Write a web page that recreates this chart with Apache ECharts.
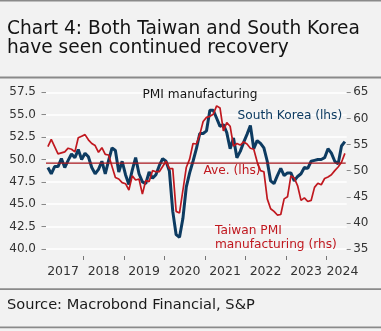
<!DOCTYPE html>
<html>
<head>
<meta charset="utf-8">
<script src="https://cdn.jsdelivr.net/npm/echarts@6/dist/echarts.min.js"></script>
<style>
html,body{margin:0;padding:0;background:#f2f2f2;}
#c{width:381px;height:331px;}
</style>
</head>
<body>
<div id="c"></div>
<script>
// month index: 0 = Jan 2017 (monthly, Feb 2017 .. Jun 2024)
const startMonth = 1;
const korea = [49.1,48.4,49.2,49.2,50.1,49.1,49.9,50.6,50.2,51.1,
  50.0,50.7,50.3,49.1,48.4,48.9,49.8,48.4,49.9,51.3,
  51.0,48.6,49.8,48.3,47.2,48.8,50.2,48.4,47.5,47.3,
  48.6,47.9,48.3,49.3,50.1,49.8,48.7,44.2,41.6,41.3,
  43.4,46.9,48.5,49.8,51.2,52.9,52.9,53.2,55.5,55.5,
  54.6,53.7,53.9,53.0,51.2,52.4,50.2,50.9,51.9,52.8,
  53.8,51.2,52.1,51.8,51.3,49.8,47.6,47.3,48.2,49.0,
  48.2,48.5,48.5,47.6,48.1,48.4,49.1,49.0,49.8,49.9,
  50.0,50.0,50.2,51.2,50.7,49.8,49.5,51.5,52.0];
const taiwan = [54.6,56.0,54.6,53.2,53.4,53.6,54.3,54.1,53.6,56.3,
  56.6,56.9,55.9,55.2,54.8,53.5,54.4,53.1,53.0,50.8,
  48.7,48.4,47.7,47.5,46.3,49.0,48.2,48.4,45.5,48.1,
  47.9,50.0,49.8,49.8,50.8,51.8,50.4,50.4,42.2,41.9,
  46.2,50.6,52.2,55.2,55.1,56.9,59.4,60.2,60.4,60.8,
  62.4,62.0,57.6,59.2,58.5,54.7,55.2,54.9,55.5,55.1,
  54.3,54.1,51.7,50.0,49.8,44.6,42.7,42.2,41.5,41.6,
  44.6,45.0,49.0,48.6,47.1,44.3,44.8,44.1,44.3,46.8,
  47.6,47.3,48.5,48.8,49.2,50.0,50.7,51.6,53.3];
const average = 49.6;
const years = [2017,2018,2019,2020,2021,2022,2023,2024];
const yearTickPos = [11.5,23.5,35.5,47.5,59.5,71.5,83.5];
const yearLabelPos = [5.5,17.5,29.5,41.5,53.5,65.5,77.5,88.3];
const leftAxis = {min:40, max:57.5, step:2.5};
const rightAxis = {min:35, max:65, step:5};

const FONT = 'DejaVu Sans';
const BLUE = '#0d3b61';
const RED = '#c0181f';

const koreaData = korea.map((v,i)=>[startMonth+i, v]);
const taiwanData = taiwan.map((v,i)=>[startMonth+i, v]);
const xMin = 0.44, xMax = 89.54;
const aveData = [[xMin, average],[xMax-0.3, average]];

const annText = (text, x, y, fill) => ({type:'text', x:x, y:y, z:100, zlevel:0,
  style:{text:text, fontFamily:FONT, fontSize:12.2, fill:fill, verticalAlign:'middle', textVerticalAlign:'middle'}});

const chart = echarts.init(document.getElementById('c'), null, {renderer:'canvas'});
chart.setOption({
  backgroundColor:'#f2f2f2',
  animation:false,
  title:[
    {text:'Chart 4: Both Taiwan and South Korea\nhave seen continued recovery', left:7, top:20.5, padding:0,
     textStyle:{fontFamily:FONT, fontSize:18.6, fontWeight:'normal', color:'#141414', lineHeight:18.3}},
    {text:'Source: Macrobond Financial, S&P', left:7, top:297.5, padding:0,
     textStyle:{fontFamily:FONT, fontSize:14.6, fontWeight:'normal', color:'#1a1a1a', lineHeight:16}}
  ],
  grid:{left:46, right:34.3, top:92.3, bottom:82, containLabel:false},
  xAxis:{type:'value', min:xMin, max:xMax, offset:7,
    axisLine:{show:false}, splitLine:{show:false},
    axisTick:{show:true, customValues:yearTickPos, length:4, lineStyle:{color:'#777', width:1}},
    axisLabel:{customValues:yearLabelPos, margin:9, fontFamily:FONT, fontSize:12.5, color:'#333',
      formatter:(v)=>{const k=yearLabelPos.findIndex(p=>Math.abs(p-v)<0.01); return k>=0? String(years[k]) : '';}}
  },
  yAxis:[
    {type:'value', min:leftAxis.min, max:leftAxis.max, interval:leftAxis.step, position:'left',
     axisLine:{show:false},
     axisTick:{show:true, length:4.5, lineStyle:{color:'#888'}},
     splitLine:{show:true, lineStyle:{color:'#ffffff', width:1.5}},
     axisLabel:{margin:10, fontFamily:FONT, fontSize:12, color:'#333', formatter:(v)=>v.toFixed(1)}},
    {type:'value', min:rightAxis.min, max:rightAxis.max, interval:rightAxis.step, position:'right',
     axisLine:{show:false},
     axisTick:{show:true, length:4, lineStyle:{color:'#888'}},
     splitLine:{show:false},
     axisLabel:{margin:6.5, fontFamily:FONT, fontSize:12, color:'#333'}}
  ],
  series:[
    {type:'line', name:'South Korea', yAxisIndex:0, data:koreaData, showSymbol:false, symbol:'none',
     lineStyle:{color:BLUE, width:3}, z:2},
    {type:'line', name:'Taiwan', yAxisIndex:1, data:taiwanData, showSymbol:false, symbol:'none',
     lineStyle:{color:RED, width:1.7}, z:3},
    {type:'line', name:'Ave.', yAxisIndex:0, data:aveData, showSymbol:false, symbol:'none',
     lineStyle:{color:'#a8161c', width:1.2}, z:4}
  ],
  graphic:[
    {type:'rect', shape:{x:0,y:0,width:381,height:1.6}, style:{fill:'#8a8a8a'}, silent:true},
    {type:'rect', shape:{x:0,y:76.6,width:381,height:1.8}, style:{fill:'#8a8a8a'}, silent:true},
    {type:'rect', shape:{x:0,y:288.3,width:381,height:1.8}, style:{fill:'#8a8a8a'}, silent:true},
    {type:'rect', shape:{x:0,y:326.4,width:381,height:1.8}, style:{fill:'#8a8a8a'}, silent:true},
    annText('PMI manufacturing', 142.5, 94.5, '#141414'),
    annText('South Korea (lhs)', 237.5, 115.8, BLUE),
    annText('Ave. (lhs)', 203.5, 170.8, RED),
    annText('Taiwan PMI', 215, 230.8, RED),
    annText('manufacturing (rhs)', 215, 244.8, RED)
  ]
});
</script>
</body>
</html>
